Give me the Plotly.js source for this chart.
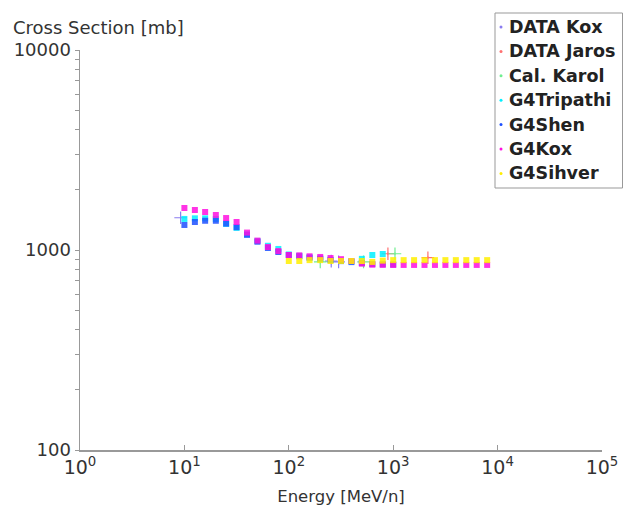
<!DOCTYPE html>
<html>
<head>
<meta charset="utf-8">
<script src="https://cdn.plot.ly/plotly-3.0.1.min.js"></script>
<style>html,body{margin:0;padding:0;background:#fff;}#chart{width:624px;height:513px;}</style>
</head>
<body>
<div id="chart"></div>
<script>
// Energies of the model points [MeV/n]
const energyModel = [10, 12.6, 15.8, 20, 25.1, 31.6, 39.8, 50.1, 63.1, 79.4,
  100, 126, 158, 200, 251, 316, 398, 501, 631, 794,
  1000, 1259, 1585, 1995, 2512, 3162, 3981, 5012, 6310, 7943];

// Measured data
const koxE = [9.2, 255, 300];
const koxV = [1450, 880, 872];
const koxErr = [25, 35, 30];
const jarosE = [890, 2150];
const jarosV = [958, 915];
const jarosErr = [15, 15];
const karolE = [200, 520, 1040];
const karolV = [872, 872, 958];
const karolErr = [15, 25, 15];

// Models
const tripathiE = energyModel.slice(0, 20);
const tripathiV = [1430, 1440, 1440, 1430, 1350, 1290, 1200, 1110, 1050, 1012,
  950, 935, 920, 905, 895, 885, 880, 903, 944, 955];
const shenE = energyModel.slice(0, 21);
const shenV = [1334, 1380, 1400, 1400, 1355, 1300, 1190, 1100, 1023, 977,
  944, 930, 915, 905, 890, 880, 870, 860, 850, 848, 846];
const g4koxV = [1622, 1585, 1549, 1496, 1445, 1380, 1222, 1114, 1035, 988,
  944, 940, 930, 923, 912, 900, 881, 855, 845, 843,
  842, 842, 842, 842, 842, 842, 842, 842, 842, 842];
const sihverE = energyModel.slice(10);
const sihverV = [881, 881, 890, 890, 881, 881, 881, 881, 872, 885,
  890, 890, 890, 890, 890, 890, 890, 890, 890, 890];

const seriesNames = ['DATA Kox', 'DATA Jaros', 'Cal. Karol', 'G4Tripathi', 'G4Shen', 'G4Kox', 'G4Sihver'];
const seriesColors = ['#8a7cf0', '#ff7070', '#70ee90', '#00f0ff', '#1e50ff', '#ff10e0', '#ffee00'];

const xTickVals = [1, 10, 100, 1000, 10000, 100000];
const xTickText = ['10<sup>0</sup>', '10<sup>1</sup>', '10<sup>2</sup>', '10<sup>3</sup>', '10<sup>4</sup>', '10<sup>5</sup>'];
const yTickVals = [100, 1000, 10000];
const yTickText = ['100', '1000', '10000'];
const yMinorVals = [200, 300, 400, 500, 600, 700, 800, 900, 2000, 3000, 4000, 5000, 6000, 7000, 8000, 9000];

function dataTrace(i, x, y, err) {
  const color = seriesColors[i];
  return {
    type: 'scatter', mode: 'markers', name: seriesNames[i], showlegend: false,
    x: x, y: y,
    error_y: {type: 'data', array: err, visible: true, color: color, thickness: 1, width: 0},
    marker: {symbol: 'cross-thin-open', size: 9, color: color, line: {color: color, width: 1.2}}
  };
}
function modelTrace(i, x, y) {
  return {
    type: 'scatter', mode: 'markers', name: seriesNames[i], showlegend: false,
    x: x, y: y,
    marker: {symbol: 'square', size: 6, color: seriesColors[i], opacity: 0.85}
  };
}

const traces = [
  dataTrace(0, koxE, koxV, koxErr),
  dataTrace(1, jarosE, jarosV, jarosErr),
  dataTrace(2, karolE, karolV, karolErr),
  modelTrace(3, tripathiE, tripathiV),
  modelTrace(4, shenE, shenV),
  modelTrace(5, energyModel, g4koxV),
  modelTrace(6, sihverE, sihverV)
];

const FAM = 'DejaVu Sans, sans-serif';
const W = 624, H = 513;

const ML = 80, MR = 22, MT = 50, MB = 63;
const PW = W - ML - MR, PH = H - MT - MB;
const px = v => (v - ML) / PW;
const py = v => (H - MB - v) / PH;

const shapes = [{
  type: 'rect', xref: 'paper', yref: 'paper',
  x0: px(495), x1: px(622.5), y0: py(188), y1: py(13),
  line: {color: '#999', width: 1}, fillcolor: 'rgba(255,255,255,0)'
}];
const annotations = [];
seriesNames.forEach((nm, i) => {
  const yc = 27 + 24.4 * i;
  shapes.push({
    type: 'circle', xref: 'paper', yref: 'paper',
    x0: px(499.5), x1: px(502.5), y0: py(yc + 1.5), y1: py(yc - 1.5),
    line: {width: 0}, fillcolor: seriesColors[i]
  });
  annotations.push({
    xref: 'paper', yref: 'paper', x: px(507), y: py(yc),
    xanchor: 'left', yanchor: 'middle', showarrow: false,
    text: '<b>' + nm + '</b>',
    font: {family: FAM, size: 17.5, color: '#222'}
  });
});

const layout = {
  width: W, height: H,
  margin: {l: ML, r: MR, t: MT, b: MB, autoexpand: false},
  paper_bgcolor: '#fff', plot_bgcolor: '#fff',
  showlegend: false,
  title: {
    text: 'Cross Section [mb]',
    font: {family: FAM, size: 18, color: '#333'},
    x: 13 / W, xanchor: 'left', xref: 'container',
    y: 1 - 28 / H, yanchor: 'middle', yref: 'container'
  },
  xaxis: {
    type: 'log', range: [0, 5],
    tickvals: xTickVals, ticktext: xTickText,
    ticks: 'inside', ticklen: 5, tickcolor: '#999', tickwidth: 1,
    showline: true, linecolor: '#999', linewidth: 1.5,
    showgrid: false, zeroline: false,
    tickfont: {family: FAM, size: 19, color: '#333'},
    title: {text: 'Energy [MeV/n]', font: {family: FAM, size: 16.5, color: '#333'}, standoff: 13}
  },
  yaxis: {
    type: 'log', range: [2, 4],
    tickvals: yTickVals, ticktext: yTickText,
    ticks: 'outside', ticklen: 4, tickcolor: '#999', tickwidth: 1,
    minor: {tickmode: 'array', tickvals: yMinorVals, ticks: 'outside', ticklen: 4, tickcolor: '#999', tickwidth: 1, showgrid: false},
    showline: true, linecolor: '#999', linewidth: 1.5,
    showgrid: false, zeroline: false,
    tickfont: {family: FAM, size: 18, color: '#333'}
  },
  shapes: shapes,
  annotations: annotations
};

Plotly.newPlot('chart', traces, layout, {displayModeBar: false, staticPlot: true});
</script>
</body>
</html>
